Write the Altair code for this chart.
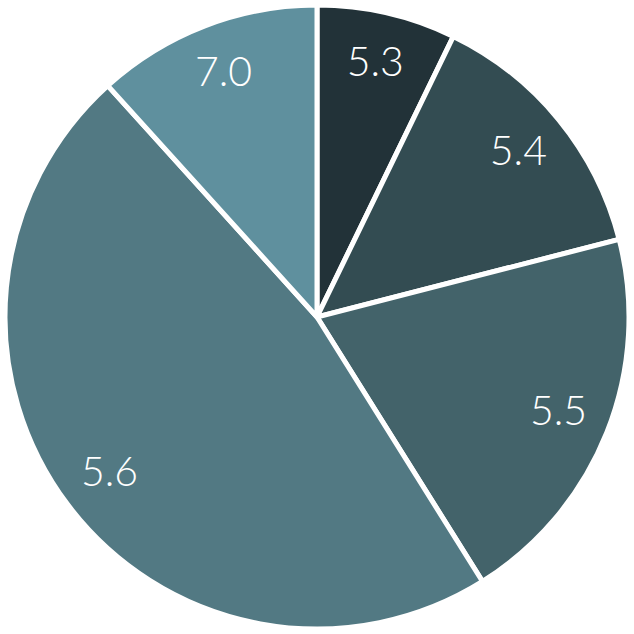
import altair as alt
import pandas as pd

labels = ["5.3", "5.4", "5.5", "5.6", "7.0"]
shares = [7.2, 13.8, 20.1, 47.2, 11.7]
colors = ["#223238", "#334c52", "#43636a", "#527983", "#5f909e"]
order = [0, 1, 2, 3, 4]

df = pd.DataFrame({"label": labels, "share": shares, "ord": order})

base = alt.Chart(df).encode(
    theta=alt.Theta("share:Q", stack=True),
    order=alt.Order("ord:Q"),
)

pie = base.mark_arc(outerRadius=312, stroke="white", strokeWidth=5).encode(
    color=alt.Color("label:N", scale=alt.Scale(domain=labels, range=colors), legend=None)
)

text = base.mark_text(radius=260, font="Lato", fontWeight=300, fontSize=41, color="white").encode(
    text="label:N"
)

chart = (pie + text).properties(
    width=634, height=634, padding=0,
    autosize=alt.AutoSizeParams(type="fit", contains="padding"),
).configure_view(stroke=None)

chart.save("out.html", embed_options={"renderer": "svg", "actions": False})
